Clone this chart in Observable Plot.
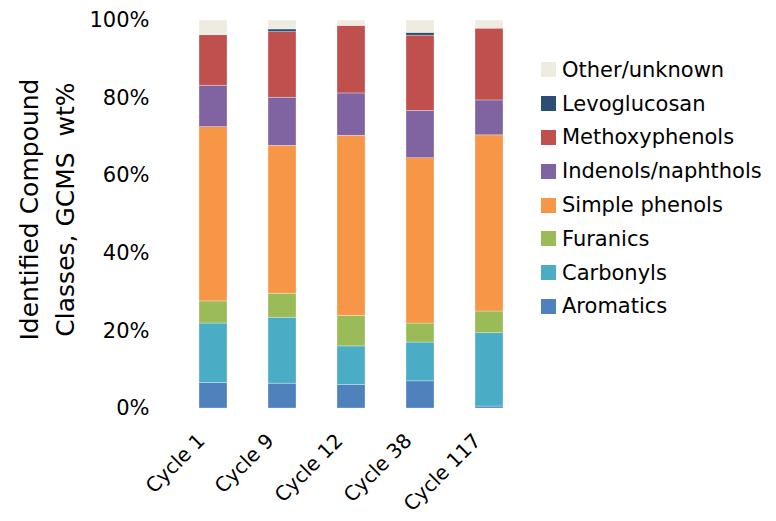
<!DOCTYPE html>
<html>
<head>
<meta charset="utf-8">
<script src="https://cdn.jsdelivr.net/npm/d3@7"></script>
<script src="https://cdn.jsdelivr.net/npm/@observablehq/plot@0.6"></script>
<style>
  body { margin: 0; background: #fff; }
  #wrap { position: relative; width: 776px; height: 521px; font-family: "DejaVu Sans", sans-serif; }
  #legend { position: absolute; left: 541px; top: 53px; }
  .row { display: flex; align-items: center; height: 33.8px; font-size: 21px; color: #000; white-space: nowrap; }
  .sw { width: 15px; height: 15px; margin-right: 6px; flex: none; }
</style>
</head>
<body>
<div id="wrap"></div>
<script>
// Sample labels (x axis)
const cycles = ["Cycle 1", "Cycle 9", "Cycle 12", "Cycle 38", "Cycle 117"];

// Compound classes, bottom of the stack first
const classes = ["Aromatics", "Carbonyls", "Furanics", "Simple phenols",
                 "Indenols/naphthols", "Methoxyphenols", "Levoglucosan", "Other/unknown"];
const colors = ["#4F81BD", "#4BACC6", "#9BBB59", "#F79646",
                "#8064A2", "#C0504D", "#2C4D75", "#EEECE1"];

// GCMS wt% per class, one value per cycle
const aromatics      = [6.6, 6.4, 6.1, 7.0, 0.5];
const carbonyls      = [15.3, 17.0, 9.9, 10.0, 18.9];
const furanics       = [5.7, 6.2, 7.9, 4.9, 5.6];
const simplePhenols  = [44.9, 38.1, 46.4, 42.6, 45.4];
const indenols       = [10.7, 12.4, 10.9, 12.2, 9.0];
const methoxyphenols = [13.0, 16.9, 17.4, 19.4, 18.5];
const levoglucosan   = [0.0, 0.7, 0.0, 0.7, 0.0];
const other          = [3.8, 2.3, 1.4, 3.2, 2.1];

const yTicks = [0, 20, 40, 60, 80, 100];

const series = [aromatics, carbonyls, furanics, simplePhenols,
                indenols, methoxyphenols, levoglucosan, other];
const rows = [];
classes.forEach((cls, i) => {
  cycles.forEach((c, j) => rows.push({cycle: c, cls, value: series[i][j]}));
});

const font = "DejaVu Sans, sans-serif";

const chart = Plot.plot({
  width: 776,
  height: 521,
  marginLeft: 165,
  marginRight: 240,
  marginTop: 20,
  marginBottom: 113,
  style: {fontFamily: font, color: "#000", background: "#fff", overflow: "visible"},
  x: {domain: cycles, paddingInner: 0.596, paddingOuter: 0.476, label: null},
  y: {domain: [0, 100], label: null},
  color: {domain: classes, range: colors},
  marks: [
    Plot.barY(rows, {
      x: "cycle", y: "value", fill: "cls", order: classes,
      stroke: "#fff", strokeWidth: 0.6, strokeOpacity: 0.5
    }),
    Plot.axisY({
      ticks: yTicks, tickFormat: d => d + "%", tickSize: 0, tickPadding: 16,
      fontSize: 21, label: null
    }),
    Plot.axisX({
      tickRotate: -45, tickSize: 0, tickPadding: 20, fontSize: 20, label: null, dx: -12, dy: 9
    }),
    Plot.text(["Identified Compound\nClasses, GCMS\u00a0 wt%"], {
      frameAnchor: "left", textAnchor: "middle", rotate: -90, dx: -121, dy: -5,
      fontSize: 25, lineHeight: 1.45, text: d => d, fill: "#000"
    })
  ]
});

const wrap = document.getElementById("wrap");
wrap.appendChild(chart);

// Legend, top entry is the top of the stack
const legend = document.createElement("div");
legend.id = "legend";
for (let i = classes.length - 1; i >= 0; i--) {
  const row = document.createElement("div");
  row.className = "row";
  const sw = document.createElement("span");
  sw.className = "sw";
  sw.style.background = colors[i];
  const label = document.createElement("span");
  label.textContent = classes[i];
  row.append(sw, label);
  legend.appendChild(row);
}
wrap.appendChild(legend);
</script>
</body>
</html>
